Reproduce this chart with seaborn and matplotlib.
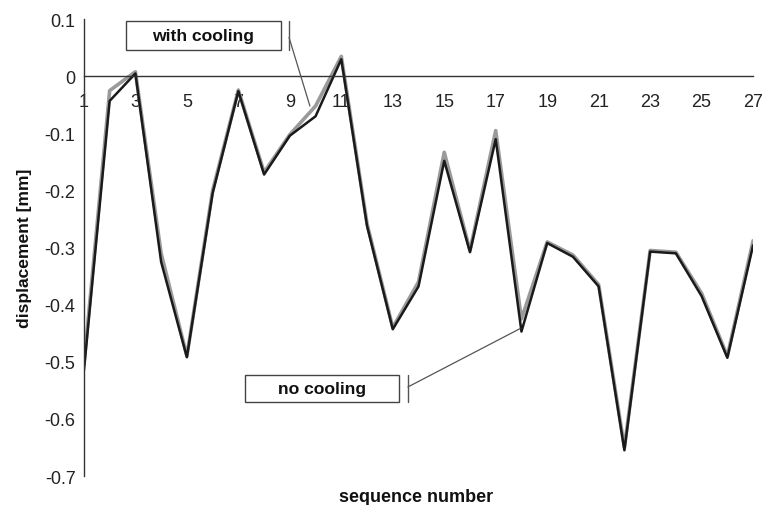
import matplotlib
matplotlib.use("Agg")
import matplotlib.pyplot as plt
from matplotlib.patches import Rectangle
import numpy as np
import pandas as pd
import seaborn as sns

# sequence numbers and measured displacement [mm]
sequence = list(range(1, 28))
no_cooling = [-0.515, -0.043, 0.005, -0.325, -0.492, -0.205, -0.026, -0.172, -0.104, -0.07,
              0.03, -0.262, -0.443, -0.368, -0.148, -0.308, -0.11, -0.447, -0.292, -0.316,
              -0.368, -0.655, -0.307, -0.31, -0.385, -0.493, -0.296]
with_cooling = [-0.505, -0.025, 0.008, -0.31, -0.49, -0.20, -0.024, -0.168, -0.102, -0.052,
                0.035, -0.258, -0.44, -0.36, -0.133, -0.305, -0.095, -0.425, -0.29, -0.313,
                -0.365, -0.65, -0.305, -0.308, -0.38, -0.49, -0.288]

y_ticks = [0.1, 0.0, -0.1, -0.2, -0.3, -0.4, -0.5, -0.6, -0.7]
y_tick_labels = ["0.1", "0", "-0.1", "-0.2", "-0.3", "-0.4", "-0.5", "-0.6", "-0.7"]
x_tick_labels = [str(n) for n in range(1, 28, 2)]

sns.set_style("white")
plt.rcParams["font.family"] = ["Liberation Sans", "DejaVu Sans"]

df = pd.DataFrame({"sequence": sequence, "no cooling": no_cooling, "with cooling": with_cooling})

fig = plt.figure(figsize=(7.63, 5.06), dpi=100)
ax = fig.add_axes([0.110, 0.0573, 0.877, 0.9027])

sns.lineplot(data=df, x="sequence", y="with cooling", ax=ax, color="#9a9a9a", linewidth=2.6)
sns.lineplot(data=df, x="sequence", y="no cooling", ax=ax, color="#1a1a1a", linewidth=1.8)

ax.set_xlim(1, 27)
ax.set_ylim(-0.7, 0.1)

ax.spines["top"].set_visible(False)
ax.spines["right"].set_visible(False)
ax.spines["bottom"].set_position(("data", 0))
for s in ("left", "bottom"):
    ax.spines[s].set_color("#333333")
    ax.spines[s].set_linewidth(1.0)

ax.set_yticks(y_ticks)
ax.set_yticklabels(y_tick_labels)
ax.set_xticks(list(range(1, 28, 2)))
ax.set_xticklabels(x_tick_labels)
ax.set_xticks(list(range(1, 28)), minor=True)
ax.tick_params(axis="both", which="major", direction="out", length=4, width=1,
               color="#333333", labelsize=13, labelcolor="#222222")
ax.tick_params(axis="x", which="major", pad=8)
ax.tick_params(axis="x", which="minor", direction="out", length=4, width=1, color="#333333")
ax.tick_params(axis="y", which="major", pad=2)
ax.grid(False)

ax.set_xlabel("sequence number", fontsize=13, fontweight="bold", color="#111111")
ax.set_ylabel("displacement [mm]", fontsize=12.6, fontweight="bold", color="#111111")
ax.xaxis.set_label_coords(0.497, -0.027)
ax.yaxis.set_label_coords(-0.078, 0.5)

# callout boxes with leader lines
def callout(text, x0, x1, y0, y1, tick_x, start_y, end_x, end_y):
    ax.add_patch(Rectangle((x0, y0), x1 - x0, y1 - y0, fill=True, facecolor="white",
                           edgecolor="#444444", linewidth=1.0, zorder=5, clip_on=False))
    ax.text((x0 + x1) / 2, (y0 + y1) / 2, text, ha="center", va="center",
            fontsize=12.6, fontweight="bold", color="#111111", zorder=6)
    ax.plot([tick_x, tick_x], [y0, y1], color="#555555", linewidth=1.0, zorder=5, clip_on=False)
    ax.plot([tick_x, end_x], [start_y, end_y], color="#555555", linewidth=0.9, zorder=4)

callout("with cooling", 2.63, 8.66, 0.047, 0.097, 8.97, 0.068, 9.78, -0.052)
callout("no cooling", 7.26, 13.24, -0.570, -0.523, 13.59, -0.544, 17.94, -0.442)

fig.savefig("out.png", dpi=100, facecolor="white")
